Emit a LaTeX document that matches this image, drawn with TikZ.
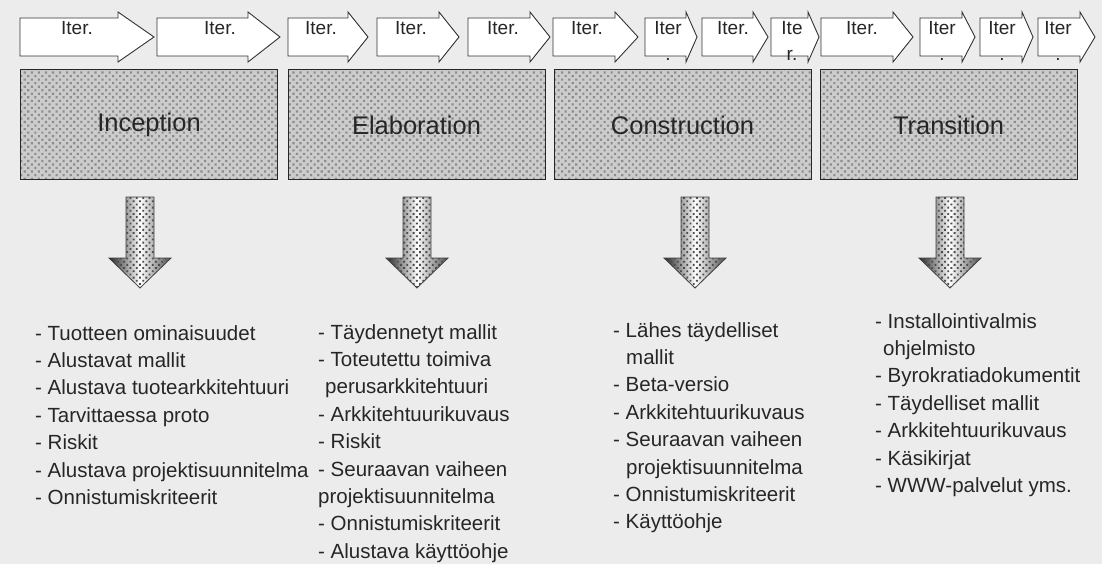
\documentclass[tikz,border=0pt]{standalone}
\usepackage{fontspec}
\setmainfont{Liberation Sans}
\usepackage{tikz}
\usetikzlibrary{
    patterns.meta
}
\definecolor{paper}{HTML}{ECECEC}
\definecolor{ink}{HTML}{262626}
\tikzset{
    phase/.style={
        rectangle,
        draw=black!85,
        line width=1pt,
        preaction={fill=gray!40},
        pattern={Dots[radius=1.5pt, distance=5pt, angle=45]},
        pattern color=black!45,
        minimum width=257pt,
        minimum height=110pt,
        inner sep=0pt,
        text=ink,
        font=\fontsize{25.5}{30}\selectfont
    },
    iterarrow/.style={
        draw=black!80,
        line width=0.9pt,
        fill=white,
        line join=miter
    },
    iterlabel/.style={
        anchor=north,
        align=center,
        inner sep=0pt,
        text=ink,
        font=\fontsize{19}{26}\selectfont
    },
    downarrow/.style={
        draw=black!75,
        line width=0.8pt,
        left color=black!85,
        right color=black!70,
        middle color=white,
        postaction={pattern={Dots[radius=1.3pt, distance=4.5pt, angle=45]}, pattern color=black!70}
    },
    outlist/.style={
        anchor=north west,
        align=left,
        inner sep=0pt,
        text=ink,
        font=\fontsize{20.5}{27.4}\selectfont
    }
}

\begin{document}
\begin{tikzpicture}[x=1pt, y=-1pt]
\fill[paper] (0,0) rectangle (1102,564);
\useasboundingbox (0,0) rectangle (1102,564);

% iterations
\foreach \l/\b/\t/\c/\txt [count=\i] in {
    20/118/154/77/Iter., 157/248/280/220/Iter., 288/348/368/321/Iter.,
    377/439/459/411/Iter., 468/530/550/503/Iter., 553/615/638/587/Iter.,
    645/686/697/668/{Iter\\.}, 702/753/768/733/Iter., 771/808/819/792/{Ite\\r.},
    821/893/913/862/Iter., 920/962/975/942/{Iter\\.}, 980/1022/1033/1002/{Iter\\.},
    1038/1080/1095/1058/{Iter\\.}}{
  \draw[iterarrow] (\l,18) -- (\b,18) -- (\b,12) -- (\t,37) -- (\b,62) -- (\b,56) -- (\l,56) -- cycle;
  \node[iterlabel] (it\i) at (\c,21.5) {\txt};
}

% phases
\node[phase] (inc) at (149,125) {Inception};
\node[phase] (ela) at (416.5,125) {Elaboration};
\node[phase] (con) at (682.5,125) {Construction};
\node[phase] (tra) at (948.5,125) {Transition};

% outputs
\foreach \cx in {140,417,695,950}{
  \path[downarrow] (\cx-14,197) -- (\cx+14,197) -- (\cx+14,258) -- (\cx+31,258)
    -- (\cx,288) -- (\cx-31,258) -- (\cx-14,258) -- cycle;
}

\node[outlist] (out1) at (35,325) {- Tuotteen ominaisuudet\\- Alustavat mallit\\- Alustava tuotearkkitehtuuri\\- Tarvittaessa proto\\- Riskit\\- Alustava projektisuunnitelma\\- Onnistumiskriteerit};
\node[outlist] (out2) at (318,324) {- Täydennetyt mallit\\- Toteutettu toimiva\\\hspace*{7pt}perusarkkitehtuuri\\- Arkkitehtuurikuvaus\\- Riskit\\- Seuraavan vaiheen\\projektisuunnitelma\\- Onnistumiskriteerit\\- Alustava käyttöohje};
\node[outlist] (out3) at (613,322) {- Lähes täydelliset\\\hspace*{13pt}mallit\\- Beta-versio\\- Arkkitehtuurikuvaus\\- Seuraavan vaiheen\\\hspace*{13pt}projektisuunnitelma\\- Onnistumiskriteerit\\- Käyttöohje};
\node[outlist] (out4) at (875,313) {- Installointivalmis\\\hspace*{8pt}ohjelmisto\\- Byrokratiadokumentit\\- Täydelliset mallit\\- Arkkitehtuurikuvaus\\- Käsikirjat\\- WWW-palvelut yms.};

\end{tikzpicture}
\end{document}
